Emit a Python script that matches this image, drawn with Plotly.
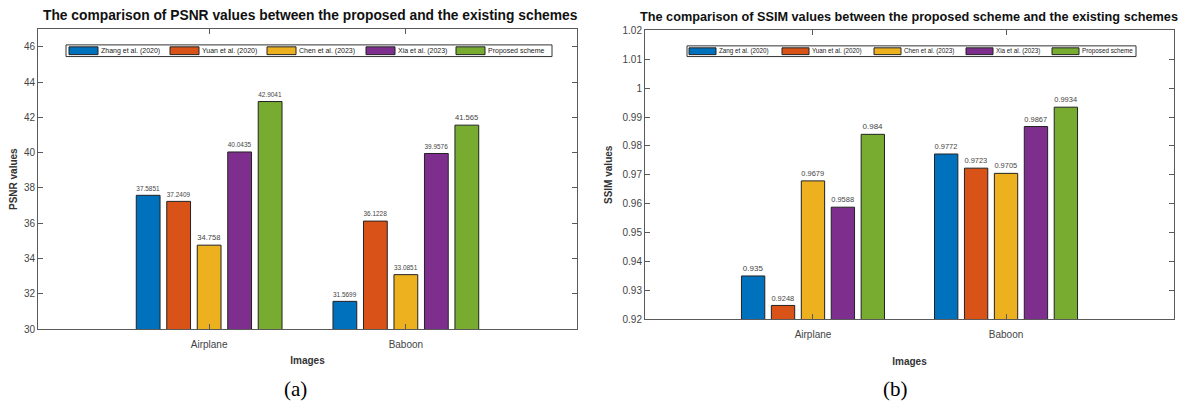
import plotly.graph_objects as go

images = ["Airplane", "Baboon"]
colors = ["#0072BD", "#D95319", "#EDB120", "#7E2F8E", "#77AC30"]

psnr_names = ["Zhang et al. (2020)", "Yuan et al. (2020)", "Chen et al. (2023)", "Xia et al. (2023)", "Proposed scheme"]
psnr_zhang = [37.5851, 31.5699]
psnr_yuan = [37.2409, 36.1228]
psnr_chen = [34.758, 33.0851]
psnr_xia = [40.0435, 39.9576]
psnr_proposed = [42.9041, 41.565]

ssim_names = ["Zang et al. (2020)", "Yuan et al. (2020)", "Chen et al. (2023)", "Xia et al. (2023)", "Proposed scheme"]
ssim_zang = [0.935, 0.9772]
ssim_yuan = [0.9248, 0.9723]
ssim_chen = [0.9679, 0.9705]
ssim_xia = [0.9588, 0.9867]
ssim_proposed = [0.984, 0.9934]

psnr_ticks = [30, 32, 34, 36, 38, 40, 42, 44, 46]
ssim_ticks = [0.92, 0.93, 0.94, 0.95, 0.96, 0.97, 0.98, 0.99, 1.0, 1.01, 1.02]
ssim_ticktext = ["0.92", "0.93", "0.94", "0.95", "0.96", "0.97", "0.98", "0.99", "1", "1.01", "1.02"]

W, H = 1179, 409
FONT = "Liberation Sans, Arial, sans-serif"
AXC = "#5a5a5a"
TXC = "#444444"

fig = go.Figure()

psnr_series = [psnr_zhang, psnr_yuan, psnr_chen, psnr_xia, psnr_proposed]
ssim_series = [ssim_zang, ssim_yuan, ssim_chen, ssim_xia, ssim_proposed]

for name, vals, c in zip(psnr_names, psnr_series, colors):
    fig.add_trace(go.Bar(
        x=images, y=vals, name=name, marker=dict(color=c, line=dict(color="#222222", width=1)),
        text=[str(v) for v in vals], textposition="outside",
        textfont=dict(size=8, color=TXC, family=FONT), cliponaxis=False,
        xaxis="x", yaxis="y", showlegend=False))

for name, vals, c in zip(ssim_names, ssim_series, colors):
    fig.add_trace(go.Bar(
        x=images, y=vals, name=name, marker=dict(color=c, line=dict(color="#222222", width=1)),
        text=[str(v) for v in vals], textposition="outside",
        textfont=dict(size=8, color=TXC, family=FONT), cliponaxis=False,
        xaxis="x2", yaxis="y2", showlegend=False))


def px_x(p):
    return p / W


def px_y(p):
    return 1 - p / H


shapes = []
annotations = []


def add_legend(names, left, right, top, bottom, starts, fsize, sw):
    shapes.append(dict(type="rect", xref="paper", yref="paper",
                       x0=px_x(left), x1=px_x(right), y0=px_y(bottom), y1=px_y(top),
                       line=dict(color="#333", width=1), fillcolor="white", layer="above"))
    for nm, c, x0 in zip(names, colors, starts):
        shapes.append(dict(type="rect", xref="paper", yref="paper",
                           x0=px_x(x0), x1=px_x(x0 + sw), y0=px_y(bottom - 2), y1=px_y(top + 2),
                           line=dict(color="#222", width=1), fillcolor=c, layer="above"))
        annotations.append(dict(text=nm, x=px_x(x0 + sw + 1), y=px_y((top + bottom) / 2),
                                xref="paper", yref="paper", showarrow=False,
                                xanchor="left", yanchor="middle",
                                font=dict(size=fsize, color="#222", family=FONT)))


add_legend(psnr_names, 66, 552, 41, 53, [69, 170, 267, 366, 456], 7, 29)
add_legend(ssim_names, 687, 1136, 42, 53, [689, 782, 874, 966, 1052], 6.3, 27)

annotations += [
    dict(text="<b>The comparison of PSNR values between the proposed and the existing schemes</b>",
         x=px_x(310), y=px_y(11), xref="paper", yref="paper", showarrow=False,
         xanchor="center", yanchor="middle", font=dict(size=13.8, color="#111", family=FONT)),
    dict(text="<b>The comparison of SSIM values between the proposed scheme and the existing schemes</b>",
         x=px_x(909), y=px_y(12), xref="paper", yref="paper", showarrow=False,
         xanchor="center", yanchor="middle", font=dict(size=12.7, color="#111", family=FONT)),
    dict(text="(a)", x=px_x(295), y=px_y(395), xref="paper", yref="paper", showarrow=False,
         xanchor="center", yanchor="middle", font=dict(size=21, color="#000", family="Liberation Serif, Times New Roman, serif")),
    dict(text="(b)", x=px_x(895), y=px_y(395), xref="paper", yref="paper", showarrow=False,
         xanchor="center", yanchor="middle", font=dict(size=21, color="#000", family="Liberation Serif, Times New Roman, serif")),
]

common_x = dict(showline=True, linecolor=AXC, linewidth=1, mirror="ticks", ticks="inside",
                ticklen=5, tickcolor=AXC, showgrid=False, zeroline=False, ticklabelstandoff=6,
                tickfont=dict(size=10, color=TXC, family=FONT), range=[-0.87, 1.87])
common_y = dict(showline=True, linecolor=AXC, linewidth=1, mirror="ticks", ticks="inside",
                ticklen=5, tickcolor=AXC, showgrid=False, zeroline=False,
                tickfont=dict(size=10, color=TXC, family=FONT))

fig.update_layout(
    width=W, height=H, margin=dict(l=0, r=0, t=0, b=0),
    paper_bgcolor="white", plot_bgcolor="white",
    barmode="group", bargap=0.225, bargroupgap=0.22,
    font=dict(family=FONT),
    xaxis=dict(domain=[px_x(38), px_x(577)], anchor="y",
               title=dict(text="<b>Images</b>", font=dict(size=10, color="#333", family=FONT), standoff=7),
               **common_x),
    yaxis=dict(domain=[px_y(333), px_y(25)], anchor="x", range=[30, 47],
               tickvals=psnr_ticks,
               title=dict(text="<b>PSNR values</b>", font=dict(size=10, color="#333", family=FONT), standoff=4),
               **common_y),
    xaxis2=dict(domain=[px_x(645), px_x(1174)], anchor="y2",
                title=dict(text="<b>Images</b>", font=dict(size=10, color="#333", family=FONT), standoff=18),
                **common_x),
    yaxis2=dict(domain=[px_y(323), px_y(26)], anchor="x2", range=[0.92, 1.02],
                tickvals=ssim_ticks, ticktext=ssim_ticktext,
                title=dict(text="<b>SSIM values</b>", font=dict(size=10, color="#333", family=FONT), standoff=8),
                **common_y),
    shapes=shapes,
    annotations=annotations,
)

fig.write_html("out.html")
